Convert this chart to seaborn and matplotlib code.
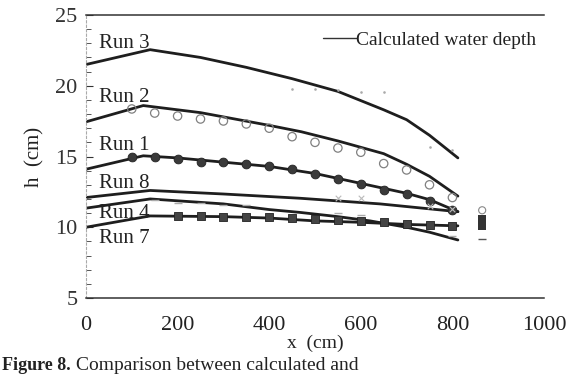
import numpy as np
import pandas as pd
import matplotlib
matplotlib.use("Agg")
import matplotlib.pyplot as plt
from matplotlib.lines import Line2D
from matplotlib.ticker import MultipleLocator
import seaborn as sns

# ---- calculated water depth (lines) ----
run3_x = [0, 140, 250, 350, 450, 550, 650, 700, 750, 812]
run3_h = [21.5, 22.55, 22.0, 21.3, 20.5, 19.6, 18.3, 17.6, 16.5, 14.9]
run2_x = [0, 125, 250, 400, 470, 550, 650, 700, 750, 812]
run2_h = [17.45, 18.6, 18.1, 17.2, 16.75, 16.1, 15.2, 14.45, 13.6, 12.2]
run1_x = [0, 125, 200, 300, 400, 500, 600, 700, 750, 812]
run1_h = [14.1, 15.05, 14.9, 14.6, 14.3, 13.8, 13.1, 12.4, 11.95, 11.1]
run8_x = [0, 140, 300, 467, 642, 812]
run8_h = [12.1, 12.6, 12.35, 12.05, 11.65, 11.1]
run4_x = [0, 140, 300, 400, 467, 550, 620, 700, 750, 812]
run4_h = [11.35, 12.0, 11.65, 11.25, 11.05, 10.75, 10.45, 10.0, 9.65, 9.1]
run7_x = [0, 140, 300, 400, 500, 600, 700, 812]
run7_h = [10.0, 10.8, 10.75, 10.65, 10.45, 10.35, 10.2, 10.1]

# ---- measured water depth (markers) ----
obs1_x = [100, 150, 200, 250, 300, 350, 400, 450, 500, 550, 600, 650, 700, 750, 800]
obs1_h = [14.96, 14.96, 14.8, 14.6, 14.6, 14.5, 14.3, 14.1, 13.76, 13.4, 13.05, 12.6, 12.35, 11.85, 11.2]
obs2_x = [100, 150, 200, 250, 300, 350, 400, 450, 500, 550, 600, 650, 700, 750, 800]
obs2_h = [18.36, 18.07, 17.86, 17.65, 17.51, 17.3, 17.0, 16.4, 16.0, 15.6, 15.3, 14.5, 14.05, 13.0, 12.1]
obs7_x = [200, 250, 300, 350, 400, 450, 500, 550, 600, 650, 700, 750, 800]
obs7_h = [10.8, 10.8, 10.72, 10.72, 10.72, 10.65, 10.58, 10.5, 10.44, 10.37, 10.23, 10.16, 10.1]
obs4_x = [150, 200, 250, 300, 350, 550, 600, 800]
obs4_h = [11.9, 11.7, 11.7, 11.6, 11.6, 11.0, 10.85, 9.4]
obs8_x = [550, 600, 750, 800]
obs8_h = [12.05, 12.1, 11.5, 11.3]
obs3_x = [450, 500, 550, 600, 650, 750, 800]
obs3_h = [19.8, 19.8, 19.7, 19.55, 19.55, 15.7, 15.45]
outlet_x = [865]
outlet2_h = [11.2]
outlet1_h = [10.6]
outlet7_h = [10.1]
outlet4_h = [9.2]

labels = ["Run 3", "Run 2", "Run 1", "Run 8", "Run 4", "Run 7"]
label_h = [23.0, 19.2, 15.8, 13.1, 11.0, 9.2]
label_x = 28
xticks = [0, 200, 400, 600, 800, 1000]
yticks = [5, 10, 15, 20, 25]

sns.set_style("ticks")
plt.rcParams["font.family"] = ["Liberation Serif", "DejaVu Serif"]

fig = plt.figure(figsize=(5.78, 3.75), dpi=100)
ax = fig.add_axes([86 / 578, 1 - 298 / 375, (544 - 86) / 578, (298 - 15) / 375])

lines = pd.concat([
    pd.DataFrame({"x": run3_x, "h": run3_h, "run": "Run 3"}),
    pd.DataFrame({"x": run2_x, "h": run2_h, "run": "Run 2"}),
    pd.DataFrame({"x": run1_x, "h": run1_h, "run": "Run 1"}),
    pd.DataFrame({"x": run8_x, "h": run8_h, "run": "Run 8"}),
    pd.DataFrame({"x": run4_x, "h": run4_h, "run": "Run 4"}),
    pd.DataFrame({"x": run7_x, "h": run7_h, "run": "Run 7"}),
])
sns.lineplot(data=lines, x="x", y="h", units="run", estimator=None, sort=False,
             color="#1e1e1e", lw=2.0, ax=ax, legend=False)

sns.scatterplot(x=obs1_x, y=obs1_h, marker="o", s=40, color="#3a3a3a",
                edgecolor="#222222", linewidth=0.6, ax=ax, zorder=3)
sns.scatterplot(x=obs2_x, y=obs2_h, marker="o", s=36, facecolor="none",
                edgecolor="#808080", linewidth=0.9, ax=ax, zorder=3)
sns.scatterplot(x=obs7_x, y=obs7_h, marker="s", s=32, color="#444444",
                edgecolor="#222222", linewidth=0.6, ax=ax, zorder=3)
sns.scatterplot(x=obs4_x, y=obs4_h, marker="_", s=30, color="#aaaaaa",
                linewidth=1.0, ax=ax, zorder=3)
sns.scatterplot(x=obs8_x, y=obs8_h, marker="x", s=16, color="#bbbbbb",
                linewidth=0.8, ax=ax, zorder=3)
sns.scatterplot(x=obs3_x, y=obs3_h, marker=".", s=14, color="#aaaaaa",
                linewidth=0, ax=ax, zorder=3)
sns.scatterplot(x=outlet_x, y=outlet2_h, marker="o", s=26, facecolor="none",
                edgecolor="#888888", linewidth=0.8, ax=ax, zorder=3)
sns.scatterplot(x=outlet_x, y=outlet1_h, marker="s", s=40, color="#333333",
                linewidth=0, ax=ax, zorder=3)
sns.scatterplot(x=outlet_x, y=outlet7_h, marker="s", s=40, color="#333333",
                linewidth=0, ax=ax, zorder=3)
sns.scatterplot(x=outlet_x, y=outlet4_h, marker="_", s=40, color="#555555",
                linewidth=1.0, ax=ax, zorder=3)

for lab, hv in zip(labels, label_h):
    ax.text(label_x, hv, lab, fontsize=15, color="#222222", va="center", ha="left")

handle = Line2D([0], [0], color="#333333", lw=1.0)
ax.legend([handle], ["Calculated water depth"], loc="upper left",
          bbox_to_anchor=(0.5, 0.97), frameon=False, fontsize=14,
          handlelength=1.7, handletextpad=0.0, borderaxespad=0.0,
          labelcolor="#222222")

ax.set_xlim(0, 1000)
ax.set_ylim(5, 25)
ax.set_xticks(xticks)
ax.set_yticks(yticks)
ax.yaxis.set_minor_locator(MultipleLocator(1))
ax.tick_params(axis="x", length=0, pad=13, labelsize=16, colors="#222222")
ax.tick_params(axis="y", which="major", direction="in", length=5, width=0.8,
               pad=6, labelsize=16, colors="#333333")
ax.tick_params(axis="y", which="minor", direction="in", length=3.5, width=0.7,
               colors="#555555")
ax.set_xlabel("x  (cm)", fontsize=14, color="#222222", labelpad=0)
ax.set_ylabel("h  (cm)", fontsize=15, color="#222222", labelpad=8)

for side in ["top", "bottom"]:
    ax.spines[side].set_color("#333333")
    ax.spines[side].set_linewidth(1.1)
ax.spines["left"].set_color("#aaaaaa")
ax.spines["left"].set_linestyle((0, (2, 2)))
ax.spines["left"].set_linewidth(0.8)
ax.spines["right"].set_visible(False)

fig.text(2 / 578, 0.5 / 375, "Figure 8.", fontsize=13, fontweight="bold",
         va="bottom", ha="left", color="#222222")
fig.text(76 / 578, 0.5 / 375, "Comparison between calculated and",
         fontsize=14, va="bottom", ha="left", color="#222222")

fig.savefig("out.png", dpi=100, facecolor="white")
